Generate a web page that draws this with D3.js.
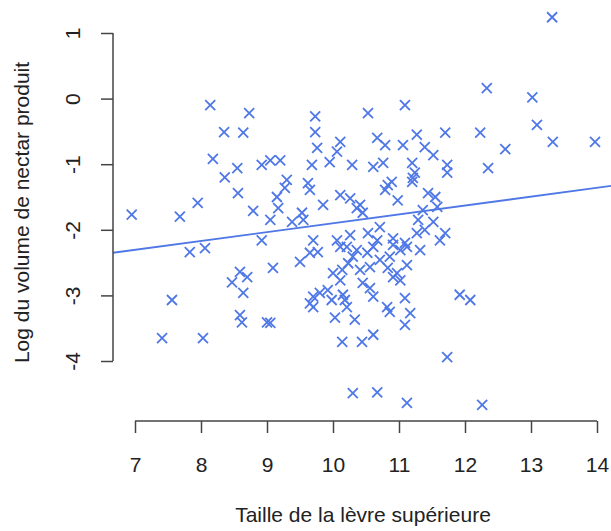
<!DOCTYPE html>
<html>
<head>
<meta charset="utf-8">
<script src="https://cdn.jsdelivr.net/npm/d3@7"></script>
<style>
  html, body { margin: 0; padding: 0; background: #ffffff; }
  svg { display: block; }
  text { font-family: "Liberation Sans", Arial, sans-serif; fill: #222; }
</style>
</head>
<body>
<script>
// Upper lip size (x) and log nectar volume (y)
const lipSize = [
  13.32,12.33,13.02,11.09,10.53,13.09,11.70,12.23,13.33,13.97,12.61,12.35,11.73,11.73,
  10.67,10.79,11.06,11.27,11.39,11.52,11.20,11.24,10.61,10.76,10.89,10.79,10.98,11.20,11.44,11.55,10.41,10.45,11.36,11.29,11.39,11.27,11.70,10.71,10.91,10.53,11.09,
  8.14,8.73,8.35,8.64,9.73,9.73,9.76,10.11,8.18,8.55,8.36,8.92,9.05,9.20,9.68,9.95,10.06,10.29,8.56,9.30,9.62,9.65,9.15,9.17,8.79,7.95,7.68,6.95,9.38,9.53,9.85,10.11,10.26,8.92,9.70,10.06,10.26,
  9.27,9.05,9.55,10.36,10.83,11.21,11.58,11.32,9.77,9.50,9.09,10.21,10.30,10.52,10.67,11.12,10.86,10.71,10.23,10.14,10.41,10.56,10.83,10.91,11.12,10.00,10.11,10.45,10.56,11.02,9.70,9.80,9.92,9.98,9.65,10.18,10.61,11.09,10.82,10.86,11.17,11.09,10.03,10.33,10.14,10.44,10.61,9.05,
  7.83,8.06,9.65,8.59,8.70,8.47,8.64,7.56,8.59,8.62,9.00,7.41,8.03,9.70,10.15,10.21,10.36,10.11,
  10.61,10.91,11.02,11.62,10.97,11.92,12.08,11.73,10.67,11.12,12.26,10.30,11.52
];
const logNectar = [
  1.24,0.16,0.02,-0.10,-0.22,-0.40,-0.52,-0.52,-0.66,-0.66,-0.77,-1.06,-1.01,-1.13,
  -0.60,-0.71,-0.71,-0.55,-0.74,-0.86,-0.98,-1.13,-1.04,-0.98,-1.27,-1.39,-1.55,-1.27,-1.44,-1.50,-1.62,-1.74,-1.70,-1.85,-2.00,-2.05,-2.05,-1.96,-2.13,-2.05,-2.20,
  -0.10,-0.22,-0.51,-0.52,-0.27,-0.51,-0.75,-0.66,-0.92,-1.06,-1.20,-1.01,-0.94,-0.94,-1.01,-0.97,-0.81,-1.01,-1.44,-1.24,-1.29,-1.39,-1.50,-1.67,-1.71,-1.59,-1.80,-1.77,-1.88,-1.74,-1.62,-1.47,-1.52,-2.16,-2.16,-2.16,-2.08,
  -1.36,-1.85,-1.85,-1.67,-1.32,-1.21,-1.65,-2.31,-2.34,-2.49,-2.58,-2.26,-2.41,-2.35,-2.16,-2.26,-2.41,-2.46,-2.51,-2.61,-2.61,-2.57,-2.58,-2.72,-2.54,-2.66,-2.77,-2.81,-2.89,-2.77,-3.02,-2.96,-2.92,-3.07,-3.12,-3.07,-3.02,-3.04,-3.18,-3.25,-3.27,-3.45,-3.34,-3.37,-3.71,-3.71,-3.60,-3.42,
  -2.34,-2.28,-2.35,-2.64,-2.72,-2.80,-2.96,-3.07,-3.30,-3.41,-3.41,-3.65,-3.65,-3.18,-2.99,-3.18,-2.31,-2.26,
  -2.26,-2.23,-2.31,-2.16,-2.66,-2.99,-3.07,-3.94,-4.48,-4.64,-4.67,-4.49,-1.88
];
const xTicks = [7, 8, 9, 10, 11, 12, 13, 14];
const yTicks = [-4, -3, -2, -1, 0, 1];
const fitIntercept = -3.25;
const fitSlope = 0.135;
const xTitle = "Taille de la lèvre supérieure";
const yTitle = "Log du volume de nectar produit";

const W = 611, H = 531;
const color = "#4f78e6";

const svg = d3.select("body").append("svg").attr("width", W).attr("height", H);
svg.append("rect").attr("width", W).attr("height", H).attr("fill", "#fff");

const x = d3.scaleLinear().domain([7, 14]).range([135, 597]);
const y = d3.scaleLinear().domain([-4, 1]).range([361, 33]);

// plot region (R usr with 4% extension)
const xUsr = [x.invert(113), x.invert(613)];
const yUsr = [y.invert(423), y.invert(2)];

svg.append("clipPath").attr("id", "plotclip").append("rect")
  .attr("x", x(xUsr[0])).attr("y", y(yUsr[1]))
  .attr("width", x(xUsr[1]) - x(xUsr[0])).attr("height", y(yUsr[0]) - y(yUsr[1]));

// regression line
const line = d3.line().x(d => x(d)).y(d => y(fitIntercept + fitSlope * d));
svg.append("path")
  .attr("clip-path", "url(#plotclip)")
  .attr("d", line(xUsr))
  .attr("fill", "none").attr("stroke", color).attr("stroke-width", 1.8);

// points (pch = 4)
const pts = lipSize.map((v, i) => [v, logNectar[i]]);
const s = 5;
svg.append("g").selectAll("path").data(pts).join("path")
  .attr("transform", d => `translate(${x(d[0])},${y(d[1])})`)
  .attr("d", `M${-s},${-s}L${s},${s}M${-s},${s}L${s},${-s}`)
  .attr("stroke", color).attr("stroke-width", 1.8).attr("fill", "none");

// axes
const axisColor = "#444";
const fmt = d => String(d);
const gx = svg.append("g").attr("transform", `translate(0,${421})`)
  .call(d3.axisBottom(x).tickValues(xTicks).tickFormat(fmt).tickSize(12).tickSizeOuter(0));
gx.selectAll("path, line").attr("stroke", axisColor).attr("stroke-width", 1.5);
gx.selectAll("text").attr("y", 51).attr("dy", 0).attr("font-size", 21)
  .attr("font-family", "Liberation Sans, Arial, sans-serif").attr("fill", "#222");

const gy = svg.append("g").attr("transform", `translate(${113},0)`)
  .call(d3.axisLeft(y).tickValues(yTicks).tickFormat(fmt).tickSize(12).tickSizeOuter(0));
gy.selectAll("path, line").attr("stroke", axisColor).attr("stroke-width", 1.5);
gy.selectAll("text")
  .attr("transform", "rotate(-90)")
  .attr("x", 0).attr("y", -33).attr("dy", 0)
  .attr("text-anchor", "middle").attr("font-size", 21)
  .attr("font-family", "Liberation Sans, Arial, sans-serif").attr("fill", "#222");
gx.selectAll(".domain").attr("d", `M${x(7)},0H${x(14)}`);
gy.selectAll(".domain").attr("d", `M0,${y(-4)}V${y(1)}`);

// titles
svg.append("text")
  .attr("x", (x(xUsr[0]) + x(xUsr[1])) / 2).attr("y", 522)
  .attr("text-anchor", "middle").attr("font-size", 21)
  .text(xTitle);
svg.append("text")
  .attr("transform", `translate(29,${(y(yUsr[0]) + y(yUsr[1])) / 2}) rotate(-90)`)
  .attr("text-anchor", "middle").attr("font-size", 21)
  .text(yTitle);
</script>
</body>
</html>
